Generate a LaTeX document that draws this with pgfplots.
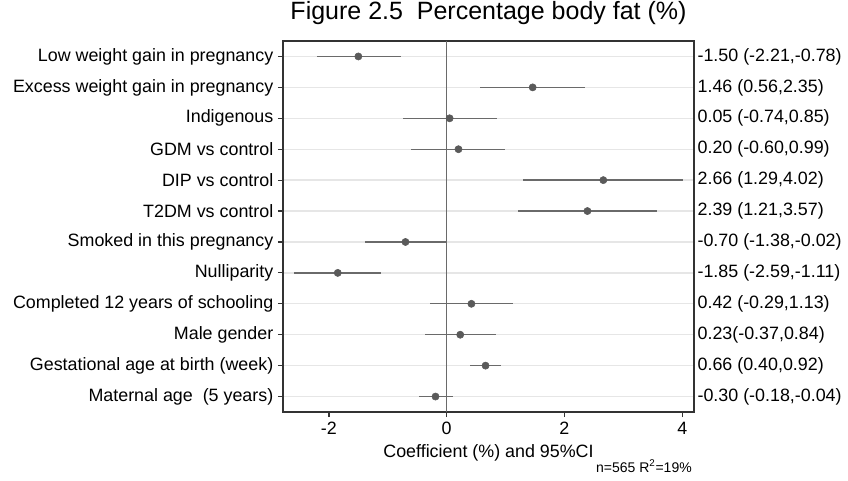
\documentclass[border=0pt]{standalone}
\usepackage{pgfplots}
\pgfplotsset{compat=1.18}
\usepackage{fontspec}
\setmainfont{Liberation Sans}
\definecolor{dotc}{HTML}{5A5A5A}
\definecolor{barc}{HTML}{6A6A6A}
\definecolor{gridc}{HTML}{E6E6E6}
\definecolor{axc}{HTML}{333333}
\newcommand{\lbl}{\fontsize{13.4}{16}\selectfont}
\pgfplotstableread{
row est ep em
1 -1.50 0.72 0.71
2 1.46 0.89 0.90
3 0.05 0.80 0.79
4 0.20 0.79 0.80
5 2.66 1.36 1.37
6 2.39 1.18 1.18
7 -0.70 0.68 0.68
8 -1.85 0.74 0.74
9 0.42 0.71 0.71
10 0.23 0.61 0.60
11 0.66 0.26 0.26
12 -0.19 0.30 0.28
}\coef
\begin{document}
\begin{tikzpicture}
\begin{axis}[
  name=ax,
  scale only axis, width=308.25pt, height=278.25pt,
  xmin=-2.78, xmax=4.2, ymin=0.5, ymax=12.5, y dir=reverse,
  xtick={-2,0,2,4}, ytick={1,2,3,4,5,6,7,8,9,10,11,12},
  yticklabels={Low weight gain in pregnancy, Excess weight gain in pregnancy, Indigenous, GDM vs control, DIP vs control, T2DM vs control, Smoked in this pregnancy, Nulliparity, Completed 12 years of schooling, Male gender, Gestational age at birth (week), Maternal age\ \ (5 years)},
  tick align=outside, xtick pos=bottom, ytick pos=left, major tick length=3.75pt,
  ymajorgrids, major grid style={gridc, line width=1pt},
  axis line style={axc, line width=0.9pt},
  tick style={axc, line width=0.9pt},
  tick label style={font=\lbl},
  /pgf/number format/assume math mode=true,
  title={Figure 2.5\ \ Percentage body fat (\%)},
  title style={font=\fontsize{18.75}{22}\selectfont, at={(0.5,1)}, anchor=base, yshift=10.5pt, inner sep=0pt},
  xlabel={Coefficient (\%) and 95\%CI},
  xlabel style={font=\lbl, at={(axis description cs:0.5,0)}, anchor=base, yshift=-33.75pt, inner sep=0pt},
  clip=false,
]
\draw[barc, line width=0.9pt] (axis cs:0,0.5) -- (axis cs:0,12.5);
\addplot[only marks, mark=*, mark size=2.7pt, mark options={fill=dotc, draw=dotc},
  error bars/.cd, x dir=both, x explicit, error mark=none,
  error bar style={barc, line width=1pt}]
  table[x=est, y=row, x error plus=ep, x error minus=em] {\coef};
\foreach \r/\t in {1/{-1.50 (-2.21,-0.78)}, 2/{1.46 (0.56,2.35)}, 3/{0.05 (-0.74,0.85)}, 4/{0.20 (-0.60,0.99)}, 5/{2.66 (1.29,4.02)}, 6/{2.39 (1.21,3.57)}, 7/{-0.70 (-1.38,-0.02)}, 8/{-1.85 (-2.59,-1.11)}, 9/{0.42 (-0.29,1.13)}, 10/{0.23(-0.37,0.84)}, 11/{0.66 (0.40,0.92)}, 12/{-0.30 (-0.18,-0.04)}}{
  \edef\temp{\noexpand\node[anchor=west, inner sep=0pt, xshift=2.5pt, font=\noexpand\lbl] at (axis cs:4.2,\r) {\unexpanded\expandafter{\t}};}
  \temp
}
\end{axis}
\node[anchor=base east, inner sep=0pt, font=\fontsize{10.5}{12}\selectfont] at ([xshift=-1.5pt, yshift=-45pt]ax.south east) {n=565 R$^{\mathrm{2}}$=19\%};
\pgfresetboundingbox
\path[use as bounding box] ([xshift=-212.25pt,yshift=-51pt]ax.south west) rectangle ++(636pt,360pt);
\end{tikzpicture}
\end{document}
